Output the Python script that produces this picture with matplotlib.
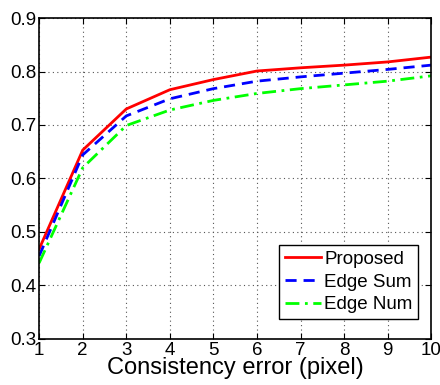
import matplotlib
matplotlib.use("Agg")
import matplotlib.pyplot as plt

plt.rcParams['font.family'] = ['Liberation Sans', 'DejaVu Sans']

# consistency error in pixels
x = [1, 2, 3, 4, 5, 6, 7, 8, 9, 10]
proposed = [0.468, 0.653, 0.730, 0.766, 0.785, 0.801, 0.807, 0.812, 0.818, 0.827]
edge_sum = [0.455, 0.644, 0.717, 0.749, 0.768, 0.782, 0.790, 0.797, 0.804, 0.812]
edge_num = [0.442, 0.620, 0.699, 0.728, 0.746, 0.759, 0.768, 0.775, 0.782, 0.792]

fig = plt.figure(figsize=(4.4, 3.85), dpi=100)
ax = fig.add_axes([0.089, 0.12, 0.891, 0.833])

ax.plot(x, proposed, color='#ff0000', linestyle='-', lw=2, label='Proposed')
ax.plot(x, edge_sum, color='#0000ff', linestyle=(0, (4, 2.5)), lw=2, label='Edge Sum')
ax.plot(x, edge_num, color='#00ff00', linestyle=(0, (5, 2, 1, 2)), lw=2, label='Edge Num')

ax.set_xlim(1, 10)
ax.set_ylim(0.3, 0.9)
ax.set_xticks(range(1, 11))
ax.set_yticks([0.3, 0.4, 0.5, 0.6, 0.7, 0.8, 0.9])
ax.set_yticklabels(['0.3', '0.4', '0.5', '0.6', '0.7', '0.8', '0.9'])
ax.tick_params(direction='in', top=True, right=True, labelsize=13.5, length=4, pad=2)
ax.grid(True, linestyle=(0, (1, 3)), color='#555555', linewidth=0.8)
for s in ax.spines.values():
    s.set_linewidth(1.2)

ax.set_xlabel('Consistency error (pixel)', fontsize=17, labelpad=-1)

leg = ax.legend(loc='lower right', bbox_to_anchor=(0.967, 0.062), fontsize=13.5,
                fancybox=False, framealpha=1, edgecolor='black',
                handlelength=1.9, handletextpad=0.2, borderpad=0.3,
                labelspacing=0.3, borderaxespad=0)
leg.get_frame().set_linewidth(1.0)

fig.savefig('out.png', dpi=100)
